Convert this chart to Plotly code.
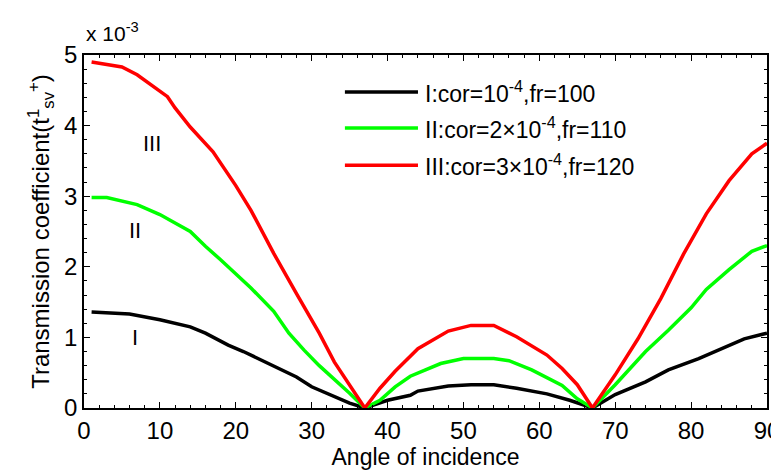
import plotly.graph_objects as go

# Data (values in units of 1e-3)
red_x = [1, 5, 7, 9, 11, 12, 14, 17, 20, 22, 25, 28, 31, 33, 35, 37, 39, 41, 44, 48, 51, 54, 57, 61, 63, 65, 67, 70, 73, 76, 79, 82, 85, 88, 90]
red_y = [4.90, 4.83, 4.72, 4.57, 4.41, 4.25, 3.98, 3.63, 3.15, 2.80, 2.19, 1.62, 1.06, 0.65, 0.33, 0.0, 0.28, 0.52, 0.84, 1.09, 1.17, 1.17, 1.01, 0.75, 0.56, 0.33, 0.0, 0.47, 0.98, 1.55, 2.18, 2.75, 3.22, 3.60, 3.75]

green_x = [1, 3, 7, 10, 12, 14, 16, 18, 22, 25, 27, 29, 31, 33, 35, 37, 39, 41, 43, 47, 50, 54, 56, 59, 63, 65, 67, 70, 74, 77, 80, 82, 85, 88, 90]
green_y = [2.98, 2.98, 2.88, 2.74, 2.62, 2.50, 2.29, 2.10, 1.70, 1.37, 1.06, 0.82, 0.60, 0.41, 0.21, 0.0, 0.11, 0.30, 0.45, 0.63, 0.70, 0.70, 0.67, 0.54, 0.32, 0.13, 0.0, 0.33, 0.80, 1.10, 1.42, 1.68, 1.96, 2.22, 2.30]

black_x = [1, 3, 6, 10, 14, 16, 19, 21, 23, 26, 28, 30, 32, 35, 37, 40, 43, 44, 48, 51, 54, 57, 61, 64, 67, 70, 74, 77, 81, 84, 87, 90]
black_y = [1.36, 1.35, 1.33, 1.25, 1.15, 1.06, 0.89, 0.80, 0.70, 0.54, 0.44, 0.30, 0.21, 0.07, 0.0, 0.11, 0.18, 0.24, 0.31, 0.33, 0.33, 0.28, 0.20, 0.11, 0.0, 0.19, 0.37, 0.54, 0.70, 0.84, 0.98, 1.06]

series_names = [
    "I:cor=10<sup>-4</sup>,fr=100",
    "II:cor=2\u00d710<sup>-4</sup>,fr=110",
    "III:cor=3\u00d710<sup>-4</sup>,fr=120",
]
series_colors = ["#000000", "#00ff00", "#ff0000"]
curve_labels = ["I", "II", "III"]
curve_label_pos = [(6.7, 1.0), (6.7, 2.52), (9.0, 3.75)]

x_ticks = [0, 10, 20, 30, 40, 50, 60, 70, 80, 90]
y_ticks = [0, 1, 2, 3, 4, 5]

FONT = "Liberation Sans, Arial, sans-serif"

fig = go.Figure()
for xs, ys, name, col in zip([black_x, green_x, red_x], [black_y, green_y, red_y], series_names, series_colors):
    fig.add_trace(go.Scatter(x=xs, y=ys, mode="lines", name=name,
                             line=dict(color=col, width=3.5), showlegend=False))

axis_common = dict(
    showline=True, linecolor="black", linewidth=1.5, mirror="allticks",
    ticks="inside", ticklen=6, tickcolor="black", tickwidth=1,
    showgrid=False, zeroline=False, automargin=False,
    ticklabeloverflow="allow",
    tickfont=dict(family=FONT, size=24, color="black"),
)

fig.update_xaxes(range=[0, 90], tickvals=x_ticks,
                 minor=dict(dtick=2, ticks="inside", ticklen=3, tickcolor="black", showgrid=False),
                 title=dict(text="Angle of incidence", font=dict(family=FONT, size=23, color="black"), standoff=6),
                 **axis_common)
fig.update_yaxes(range=[0, 5], tickvals=y_ticks,
                 minor=dict(dtick=0.2, ticks="inside", ticklen=3, tickcolor="black", showgrid=False),
                 title=dict(text="Transmission coefficient(t<sup>1</sup><sub>sv</sub><sup>+</sup>)",
                            font=dict(family=FONT, size=24, color="black"), standoff=8),
                 **axis_common)

annotations = []
for lab, (lx, ly) in zip(curve_labels, curve_label_pos):
    annotations.append(dict(x=lx, y=ly, xref="x", yref="y", text=lab, showarrow=False,
                            font=dict(family=FONT, size=22, color="black")))

annotations.append(dict(x=0, y=1.0, xref="paper", yref="paper", xanchor="left", yanchor="bottom",
                        yshift=8, text="x 10<sup>-3</sup>", showarrow=False,
                        font=dict(family=FONT, size=21, color="black")))

# manual legend
shapes = []
leg_y = [0.895, 0.793, 0.688]
for name, col, ly in zip(series_names, series_colors, leg_y):
    shapes.append(dict(type="line", xref="paper", yref="paper", x0=0.382, x1=0.489, y0=ly, y1=ly,
                       line=dict(color=col, width=3.5)))
    annotations.append(dict(x=0.496, y=ly, xref="paper", yref="paper", xanchor="left", yanchor="middle",
                            text=name, showarrow=False, font=dict(family=FONT, size=23, color="black")))

fig.update_layout(
    width=771, height=464,
    margin=dict(l=76, r=12, t=47, b=64),
    paper_bgcolor="white", plot_bgcolor="white",
    annotations=annotations, shapes=shapes,
    showlegend=False,
)

fig.write_html("out.html")
